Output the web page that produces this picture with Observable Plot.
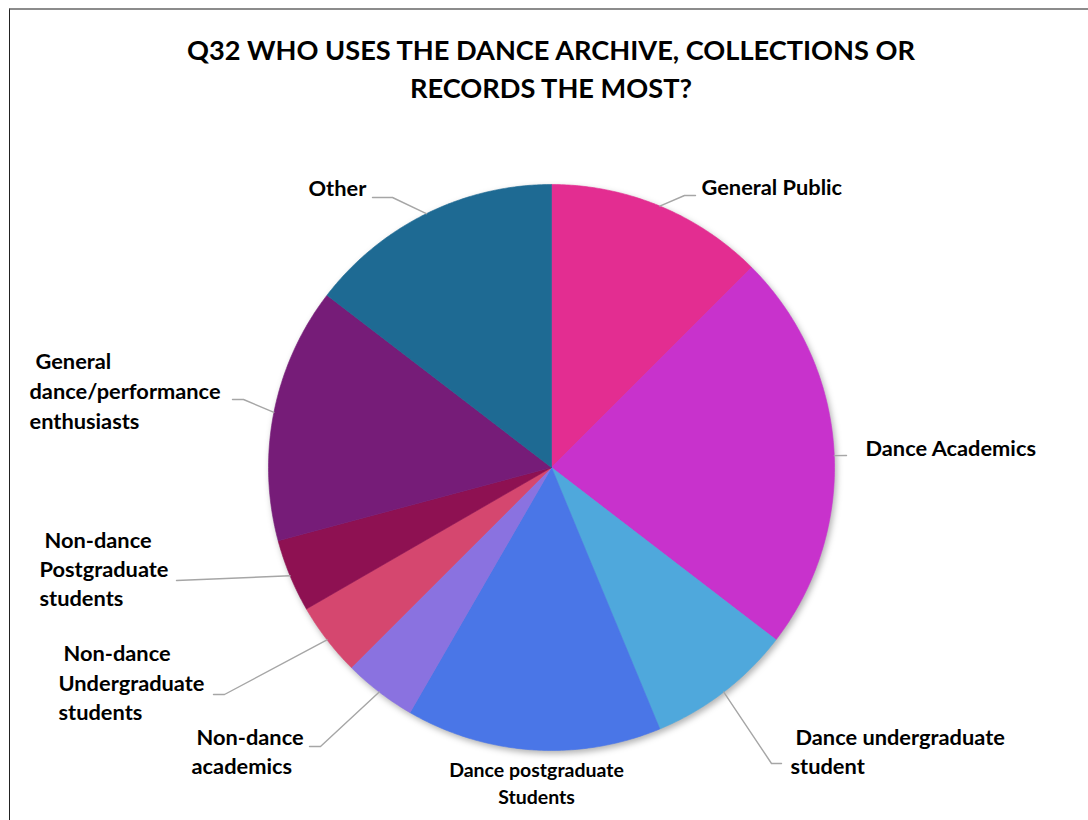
<!DOCTYPE html>
<html><head><meta charset="utf-8">
<script src="https://cdn.jsdelivr.net/npm/d3@7"></script>
<script src="https://cdn.jsdelivr.net/npm/@observablehq/plot@0.6"></script>
<style>
body{margin:0;background:#fff;font-family:Lato,"Open Sans",sans-serif;}
#wrap{position:relative;width:1088px;height:820px;overflow:hidden;background:#fff;}
#frame{position:absolute;left:9px;top:8px;width:1100px;height:830px;border-top:2px solid #8c8c8c;border-left:1.5px solid #222;box-sizing:border-box;}
#chart{position:absolute;left:0;top:0;}
#title{position:absolute;left:0;width:1102px;top:31px;text-align:center;font-weight:700;font-size:27.2px;line-height:38px;color:#000;}
</style></head><body>
<div id="wrap"><div id="frame"></div><div id="chart"></div>
<div id="title">Q32 WHO USES THE DANCE ARCHIVE, COLLECTIONS OR<br>RECORDS THE MOST?</div></div>
<script>
// ---- data ----
const categories = ["General Public","Dance Academics","Dance undergraduate student","Dance postgraduate Students","Non-dance academics","Non-dance Undergraduate students","Non-dance Postgraduate students","General dance/performance enthusiasts","Other"];
const counts = [6, 11, 4, 7, 2, 2, 2, 7, 7];
const colors = ["#E32D91","#C832CC","#4FA8DC","#4A76E7","#8A72E0","#D5476F","#8E1152","#761C78","#1E6A93"];
const labelLines = [
  ["General Public"],
  ["Dance Academics"],
  ["Dance undergraduate","student"],
  ["Dance postgraduate","Students"],
  ["Non-dance","academics"],
  ["Non-dance","Undergraduate","students"],
  ["Non-dance","Postgraduate","students"],
  ["General","dance/performance","enthusiasts"],
  ["Other"]
];

// ---- layout (pixels) ----
const W = 1088, H = 820, CX = 551, CY = 467, R = 283;
const labelLayout = [
  {anchor:"start", pos:[[701,188]]},
  {anchor:"start", pos:[[865,449]]},
  {anchor:"start", pos:[[795,738],[790,767]]},
  {anchor:"middle", pos:[[536,770],[536,797]]},
  {anchor:"start", pos:[[196,738],[191,767]]},
  {anchor:"start", pos:[[63,654],[58,684],[58,713]]},
  {anchor:"start", pos:[[44,541],[39,570],[39,599]]},
  {anchor:"start", pos:[[35,362],[29,392],[29,422]]},
  {anchor:"start", pos:[[308,189]]}
];
const leaderLayout = [
  {pts:[[684,195],[695,195]]},
  {angle:87.6, pts:[[846,455]]},
  {pts:[[771,763],[781,763]]},
  null,
  {pts:[[320,746],[309,746]]},
  {pts:[[224,694],[213,694]]},
  {pts:[[176,580]]},
  {pts:[[243,399],[232,399]]},
  {pts:[[392,197],[372,197]]}
];

const px = (p) => ({x:(p[0]-CX)/R, y:(CY-p[1])/R});
const rows = categories.map((name,i)=>({name, count:counts[i]}));
const arcs = d3.pie().sort(null).value(d=>d.count)(rows);

const piePts = [];
arcs.forEach(a=>{
  const name = a.data.name;
  piePts.push({name, x:0, y:0});
  const n = Math.max(2, Math.ceil((a.endAngle-a.startAngle)/(Math.PI/360)));
  for(let k=0;k<=n;k++){
    const t = a.startAngle + (a.endAngle-a.startAngle)*k/n;
    piePts.push({name, x:Math.sin(t), y:Math.cos(t)});
  }
  piePts.push({name, x:0, y:0});
});

const leaderPts = [];
arcs.forEach((a,i)=>{
  const L = leaderLayout[i]; if(!L) return;
  const name = a.data.name;
  const t = L.angle!=null ? L.angle*Math.PI/180 : (a.startAngle+a.endAngle)/2;
  leaderPts.push({name, x:Math.sin(t), y:Math.cos(t)});
  L.pts.forEach(p=>leaderPts.push({name, ...px(p)}));
});

const textRows = [];
categories.forEach((name,i)=>{
  const L = labelLayout[i];
  labelLines[i].forEach((t,j)=>{
    textRows.push({name, text:t, anchor:L.anchor, ...px(L.pos[j])});
  });
});

const plot = Plot.plot({
  width:W, height:H, margin:0,
  style:{fontFamily:"Lato, 'Open Sans', sans-serif", background:"transparent"},
  x:{domain:[-CX/R,(W-CX)/R], range:[0,W], axis:null},
  y:{domain:[CY/R,(CY-H)/R], range:[0,H], axis:null},
  color:{domain:categories, range:colors},
  marks:[
    Plot.line(piePts,{x:"x",y:"y",z:"name",fill:"name",stroke:"name",strokeWidth:0.6,curve:"linear"}),
    Plot.line(leaderPts,{x:"x",y:"y",z:"name",stroke:"#A6A6A6",strokeWidth:1.4}),
    Plot.text(textRows.filter(d=>d.anchor==="start"),{x:"x",y:"y",text:"text",textAnchor:"start",lineAnchor:"middle",fontSize:21.8,fontWeight:700,fill:"#000"}),
    Plot.text(textRows.filter(d=>d.anchor==="middle"),{x:"x",y:"y",text:"text",textAnchor:"middle",lineAnchor:"middle",fontSize:19.5,fontWeight:700,fill:"#000"})
  ]
});
d3.select(plot).select('g[aria-label="line"]').style("filter","drop-shadow(2px 3px 3px rgba(0,0,0,0.3))");
document.getElementById("chart").appendChild(plot);
</script>
</body></html>
